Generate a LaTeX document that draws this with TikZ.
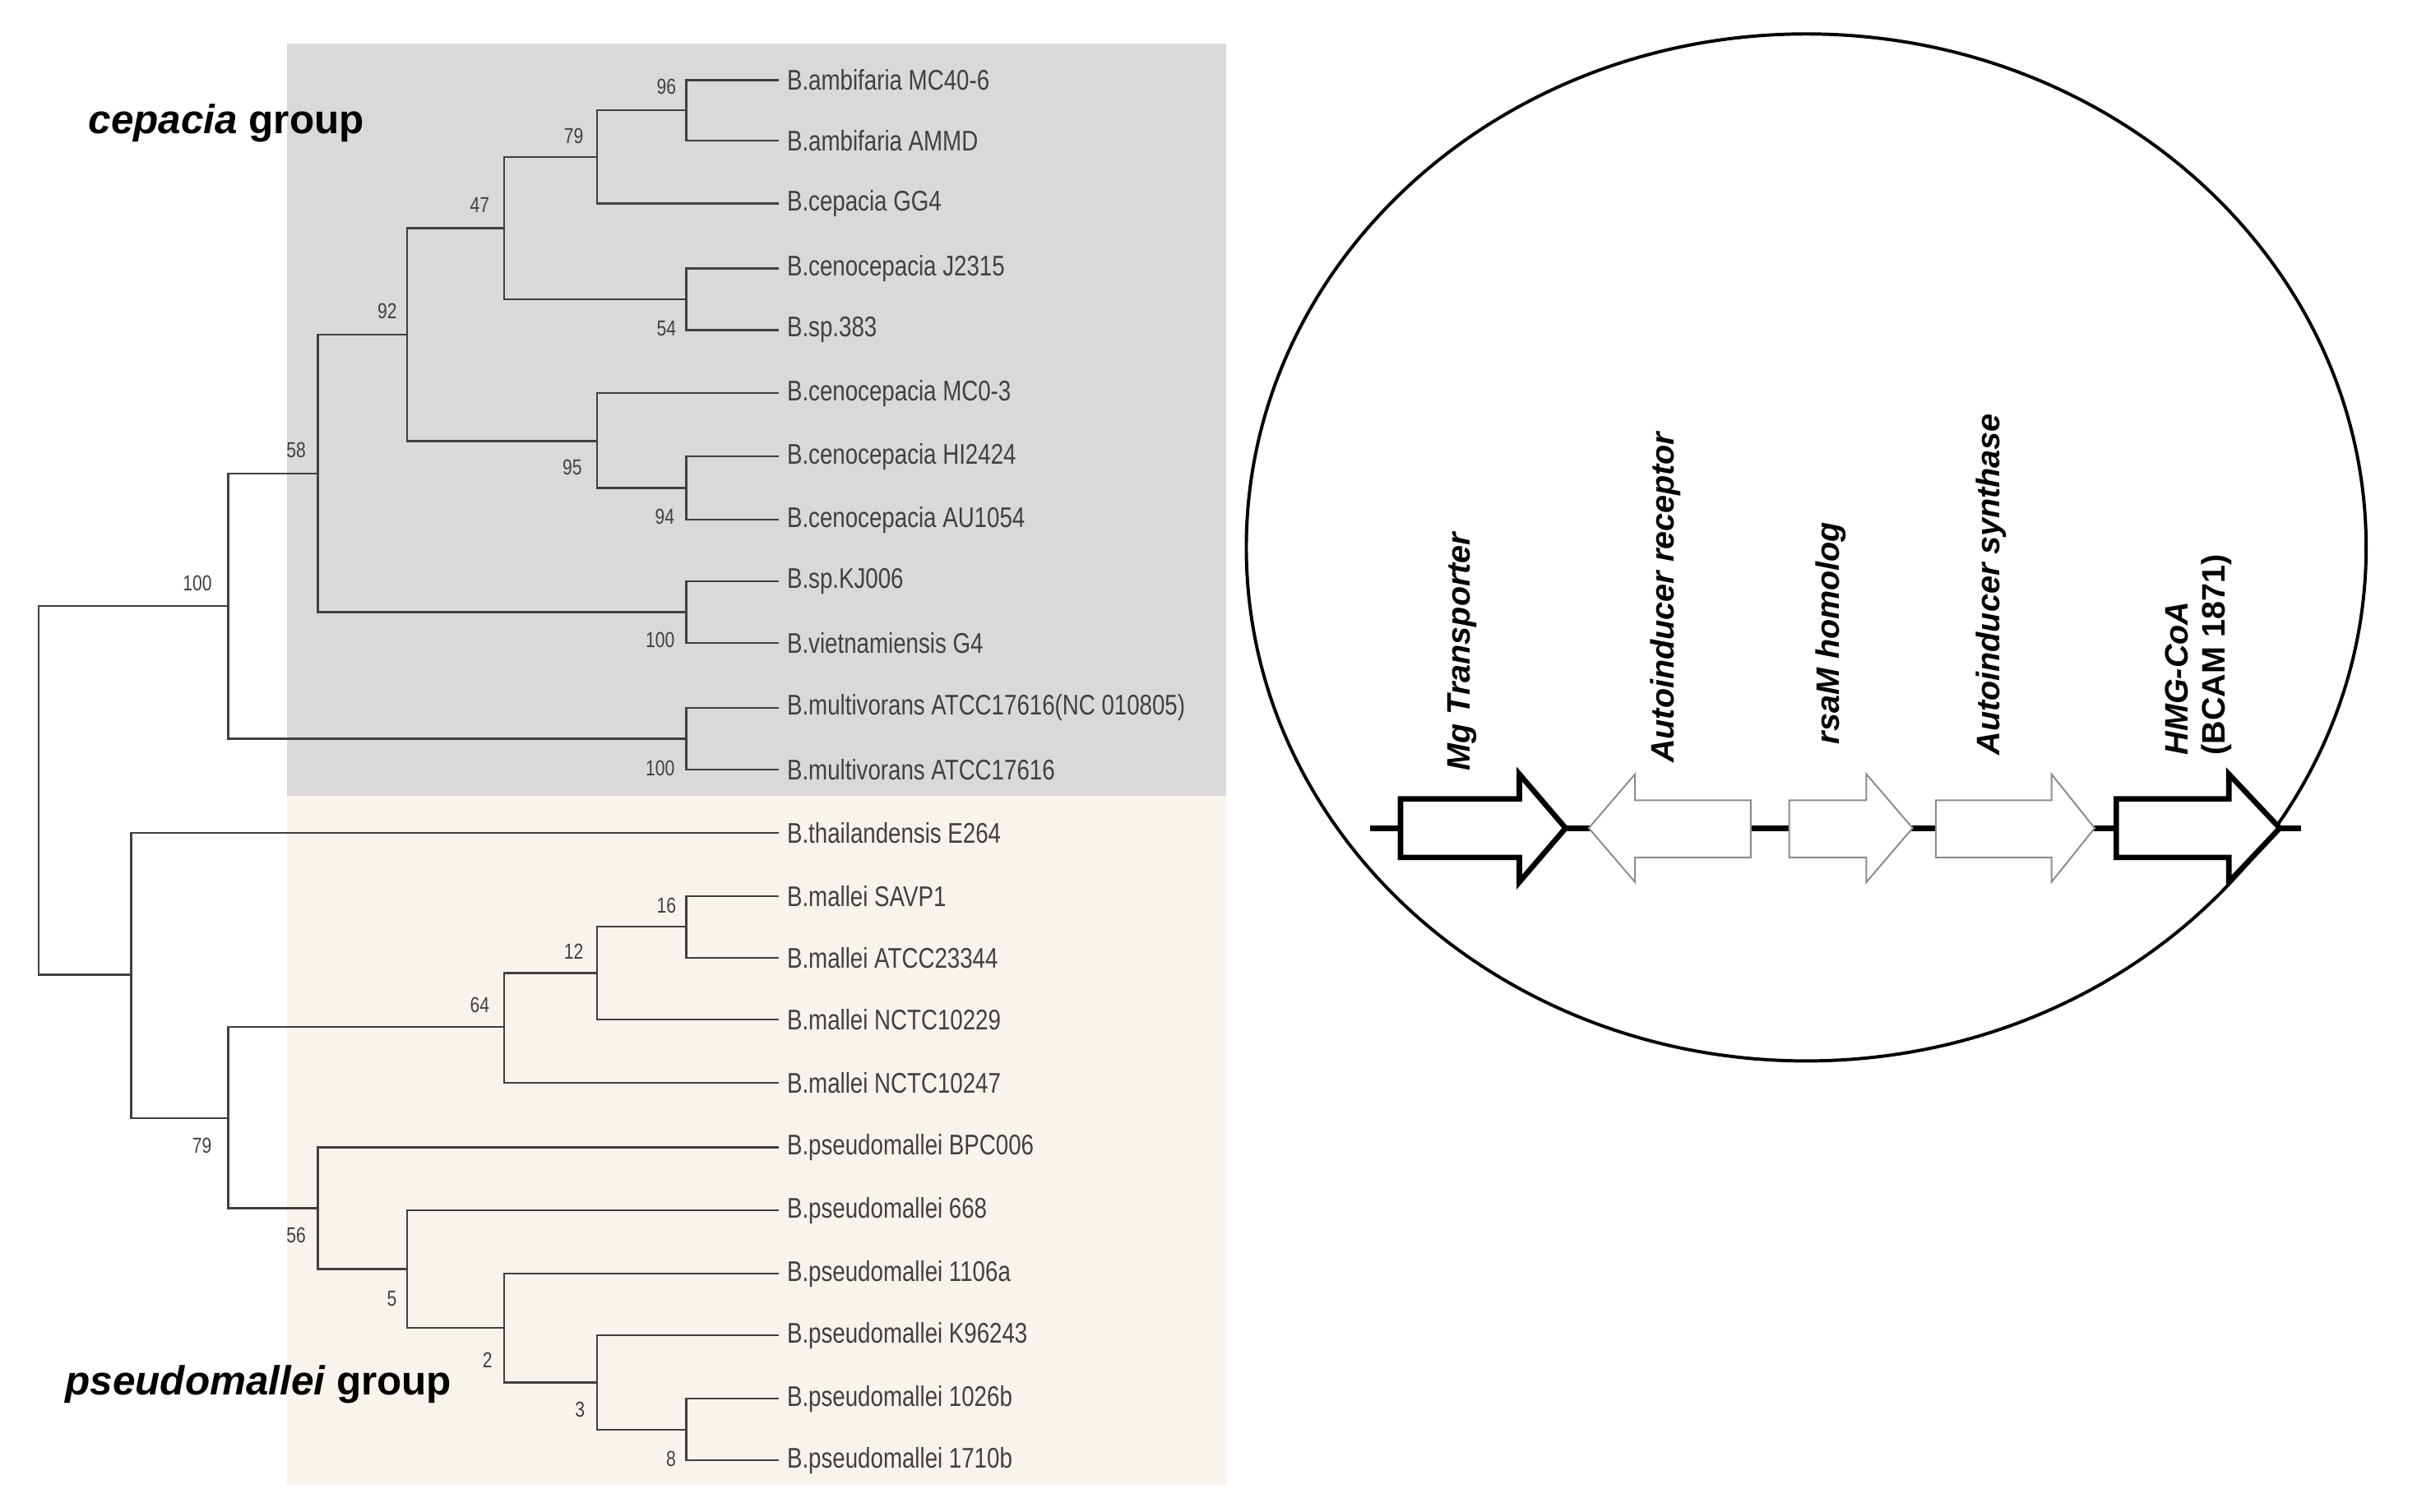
\documentclass[tikz,border=0pt]{standalone}
\usepackage{fontspec}
\setmainfont{Liberation Sans}
\begin{document}
\begin{tikzpicture}[x=0.02cm,y=-0.02cm,
  br/.style={draw=black!75,line width=0.7pt},
  leaf/.style={anchor=west,inner sep=0pt,text=black!75,font=\fontsize{10.5}{12}\selectfont,xscale=0.8},
  sup/.style={inner sep=0pt,text=black!75,font=\fontsize{8}{9}\selectfont,xscale=0.8},
  grp/.style={anchor=west,inner sep=0pt,font=\fontsize{15}{17}\selectfont\bfseries},
  gene/.style={rotate=90,anchor=west,inner sep=0pt,font=\fontsize{12}{14}\selectfont\bfseries\itshape},
  gthick/.style={draw=black,line width=2pt,fill=white},
  gthin/.style={draw=black!45,line width=0.6pt,fill=white}]
\useasboundingbox (0,0) rectangle (1567,980);
\fill[black!15] (186,28) rectangle (795,516);
\fill[black!3!white!96!orange] (186,516) rectangle (795,963);
% leaves
\foreach \n/\y/\t in {l1/52/B.ambifaria MC40-6,l2/91/B.ambifaria AMMD,l3/132/B.cepacia GG4,l4/174/B.cenocepacia J2315,l5/214/B.sp.383,l6/255/B.cenocepacia MC0-3,l7/296/B.cenocepacia HI2424,l8/337/B.cenocepacia AU1054,l9/377/B.sp.KJ006,l10/417/B.vietnamiensis G4,l11/459/B.multivorans ATCC17616(NC 010805),l12/499/B.multivorans ATCC17616,l13/540/B.thailandensis E264,l14/581/B.mallei SAVP1,l15/621/B.mallei ATCC23344,l16/661/B.mallei NCTC10229,l17/702/B.mallei NCTC10247,l18/744/B.pseudomallei BPC006,l19/785/B.pseudomallei 668,l20/826/B.pseudomallei 1106a,l21/866/B.pseudomallei K96243,l22/907/B.pseudomallei 1026b,l23/947/B.pseudomallei 1710b}
  {\coordinate (\n) at (505,\y); \node[leaf] (t\n) at (510,\y) {\t};}
% internal nodes
\coordinate (n96) at (445,71.5);
\coordinate (n79) at (387,102);
\coordinate (n54) at (445,194);
\coordinate (n47) at (327,148);
\coordinate (n94) at (445,316.5);
\coordinate (n95) at (387,286);
\coordinate (n92) at (264,217);
\coordinate (nkj) at (445,397);
\coordinate (n58) at (206,307);
\coordinate (nmu) at (445,479);
\coordinate (n100) at (148,393);
\coordinate (n16) at (445,601);
\coordinate (n12) at (387,631);
\coordinate (n64) at (327,666);
\coordinate (n8) at (445,927);
\coordinate (n3) at (387,896.5);
\coordinate (n2) at (327,861);
\coordinate (n5) at (264,823);
\coordinate (n56) at (206,783.5);
\coordinate (n79b) at (148,725);
\coordinate (nbot) at (85,632);
\coordinate (root) at (25,512);
\foreach \p/\a/\b in {n96/l1/l2,n79/n96/l3,n54/l4/l5,n47/n79/n54,n94/l7/l8,n95/l6/n94,n92/n47/n95,nkj/l9/l10,n58/n92/nkj,nmu/l11/l12,n100/n58/nmu,n16/l14/l15,n12/n16/l16,n64/n12/l17,n8/l22/l23,n3/l21/n8,n2/l20/n3,n5/l19/n2,n56/l18/n5,n79b/n64/n56,nbot/l13/n79b,root/n100/nbot}
  {\draw[br] (\p) |- (\a); \draw[br] (\p) |- (\b);}
% support values
\foreach \x/\y/\t in {432/56/96,372/88/79,311/133/47,251/202/92,432/213/54,192/292/58,371/303/95,431/335/94,128/378/100,428/415/100,428/498/100,432/587/16,372/617/12,311/652/64,131/743/79,192/801/56,254/842/5,316/882/2,376/914/3,435/946/8}
  \node[sup] at (\x,\y) {\t};
\node[grp] (g1) at (57,80) {\itshape cepacia\upshape{} group};
\node[grp] (g2) at (42,898) {\itshape pseudomallei\upshape{} group};
% ellipse
\draw[line width=1.2pt] (1171,355) ellipse [x radius=363,y radius=333];
\draw[line width=2.2pt] (888,537) -- (1492,537);
% genes
\draw[gthick] (908,518) -- (985,518) -- (985,502) -- (1015,537) -- (985,572) -- (985,556) -- (908,556) -- cycle;
\draw[gthin] (1135,519) -- (1060,519) -- (1060,502) -- (1030,537) -- (1060,572) -- (1060,556) -- (1135,556) -- cycle;
\draw[gthin] (1160,519) -- (1210,519) -- (1210,502) -- (1240,537) -- (1210,572) -- (1210,556) -- (1160,556) -- cycle;
\draw[gthin] (1255,519) -- (1330,519) -- (1330,502) -- (1358,537) -- (1330,572) -- (1330,556) -- (1255,556) -- cycle;
\draw[gthick] (1372,518) -- (1445,518) -- (1445,502) -- (1478,537) -- (1445,572) -- (1445,556) -- (1372,556) -- cycle;
\node[gene] (a1) at (948,500) {Mg Transporter};
\node[gene] (a2) at (1080,495) {Autoinducer receptor};
\node[gene] (a3) at (1187,483) {rsaM homolog};
\node[gene] (a4) at (1291,490) {Autoinducer synthase};
\node[gene] (a5) at (1411,490) {HMG-CoA};
\node[gene,font=\fontsize{12}{14}\selectfont\bfseries] (a6) at (1437,490) {(BCAM 1871)};
\end{tikzpicture}
\end{document}
